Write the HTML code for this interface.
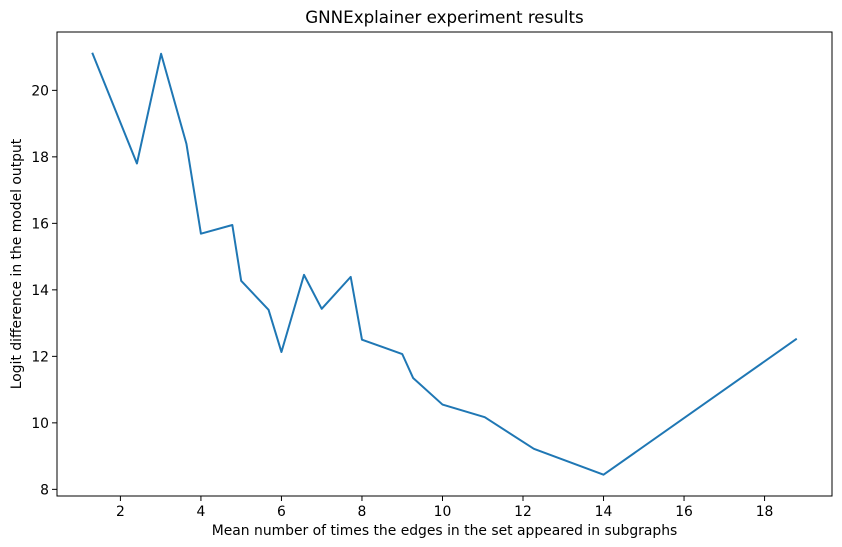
<!DOCTYPE html>
<html><head><meta charset="utf-8"><style>
body{margin:0;background:#fff;}
svg{display:block;font-family:"DejaVu Sans","Liberation Sans",sans-serif;}
</style></head><body>
<svg id="chart" width="842" height="547">
<rect x="0" y="0" width="842" height="547" fill="#fff"/>
<text x="444.5" y="23" text-anchor="middle" font-size="16.7" fill="#000">GNNExplainer experiment results</text>
<g id="plot"></g>
<rect x="57" y="32" width="775" height="464" fill="none" stroke="#000" stroke-width="1"/>
<text x="444.5" y="535" text-anchor="middle" font-size="13.9">Mean number of times the edges in the set appeared in subgraphs</text>
<text transform="translate(21,264) rotate(-90)" text-anchor="middle" font-size="13.9">Logit difference in the model output</text>
</svg>
<script>
const xValues=[1.3,2.41,3.01,3.64,4.0,4.78,5.0,5.68,6.0,6.56,7.0,7.72,8.0,9.0,9.27,10.0,11.05,12.27,14.0,18.8];
const yValues=[21.13,17.8,21.1,18.39,15.69,15.95,14.27,13.4,12.13,14.45,13.43,14.39,12.5,12.07,11.35,10.55,10.17,9.22,8.44,12.53];
const xTicks=[2,4,6,8,10,12,14,16,18];
const yTicks=[8,10,12,14,16,18,20];
const L=57,R=832,T=32,B=496;
const xmin=0.425,xmax=19.675,ymin=7.8,ymax=21.755;
function sx(v){return L+(v-xmin)/(xmax-xmin)*(R-L);}
function sy(v){return B-(v-ymin)/(ymax-ymin)*(B-T);}
const NS="http://www.w3.org/2000/svg";
const g=document.getElementById('plot');
xTicks.forEach(t=>{
  const l=document.createElementNS(NS,'line');
  l.setAttribute('x1',sx(t));l.setAttribute('x2',sx(t));l.setAttribute('y1',B);l.setAttribute('y2',B+5);l.setAttribute('stroke','#000');
  
  
  g.appendChild(l);
  const tx=document.createElementNS(NS,'text');
  tx.setAttribute('x',sx(t));tx.setAttribute('y',B+20);tx.setAttribute('text-anchor','middle');tx.setAttribute('font-size','13.9');
  tx.textContent=t;
  
  
  g.appendChild(tx);
});
yTicks.forEach(t=>{
  const l=document.createElementNS(NS,'line');
  l.setAttribute('x1',L-5);l.setAttribute('x2',L);l.setAttribute('y1',sy(t));l.setAttribute('y2',sy(t));l.setAttribute('stroke','#000');
  
  
  g.appendChild(l);
  const tx=document.createElementNS(NS,'text');
  tx.setAttribute('x',L-8);tx.setAttribute('y',sy(t)+5);tx.setAttribute('text-anchor','end');tx.setAttribute('font-size','13.9');
  tx.textContent=t;
  
  
  g.appendChild(tx);
});
const p=document.createElementNS(NS,'polyline');
p.setAttribute('points',xValues.map((x,i)=>sx(x)+','+sy(yValues[i])).join(' '));
p.setAttribute('fill','none');p.setAttribute('stroke','#1f77b4');p.setAttribute('stroke-width','2');p.setAttribute('stroke-linejoin','round');


g.appendChild(p);
</script>
</body></html>
